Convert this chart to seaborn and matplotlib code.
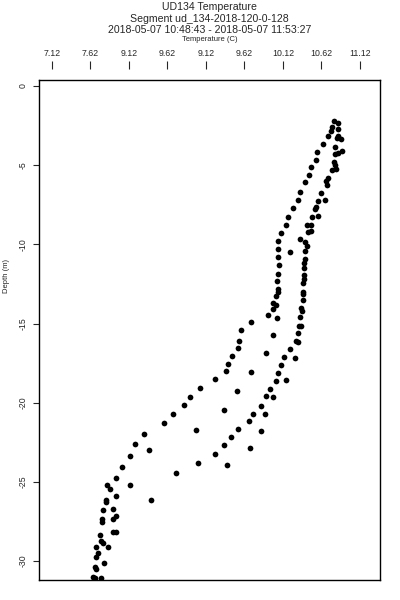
import numpy as np
import pandas as pd
import matplotlib
matplotlib.use("Agg")
import matplotlib.pyplot as plt
import seaborn as sns

# temperature (C) and depth (m) of each sample
temp_c = [10.78, 10.83, 10.75, 10.74, 10.83, 10.70, 10.83, 10.87, 10.82, 10.64,
          10.80, 10.56, 10.80, 10.83, 10.89, 10.55, 10.78, 10.79, 10.48, 10.76,
          10.81, 10.46, 10.71, 10.68, 10.41, 10.69, 10.34, 10.62, 10.32, 10.58,
          10.67, 10.25, 10.55, 10.54, 10.19, 10.50, 10.58, 10.16, 10.43, 10.48,
          10.10, 10.45, 10.48, 10.06, 10.34, 10.41, 10.43, 10.06, 10.21, 10.40,
          10.06, 10.40, 10.39, 10.07, 10.39, 10.06, 10.04, 10.39, 10.39, 10.38,
          10.05, 10.05, 10.38, 10.38, 10.03, 10.38, 9.99, 10.03, 9.99, 10.35,
          10.37, 9.92, 10.04, 10.34, 9.70, 10.33, 10.35, 9.57, 9.99, 10.31,
          9.55, 10.29, 10.31, 9.54, 9.90, 10.21, 9.46, 10.14, 10.28, 9.41,
          10.10, 9.38, 9.70, 10.06, 9.24, 10.03, 10.16, 9.05, 9.95, 9.52,
          8.92, 9.90, 9.99, 8.84, 9.35, 9.83, 8.69, 9.73, 9.89, 8.58,
          9.68, 9.54, 9.84, 8.99, 8.32, 9.45, 8.20, 9.36, 9.69, 8.38,
          8.13, 9.24, 9.02, 9.39, 8.03, 8.73, 7.95, 8.14, 7.84, 7.88,
          8.41, 7.96, 7.82, 7.82, 7.91, 7.78, 7.95, 7.92, 7.77, 7.77,
          7.91, 7.95, 7.75, 7.76, 7.79, 7.69, 7.85, 7.72, 7.69, 7.80,
          7.68, 7.69, 7.66, 7.68, 7.76]

depth_m = [-2.19, -2.32, -2.61, -2.82, -2.74, -3.16, -3.16, -3.33, -3.28, -3.68,
           -3.83, -4.17, -4.30, -4.25, -4.11, -4.67, -4.82, -4.97, -5.14, -5.33,
           -5.24, -5.60, -5.83, -5.98, -6.06, -6.27, -6.70, -6.74, -7.22, -7.25,
           -7.22, -7.71, -7.62, -7.77, -8.26, -8.26, -8.21, -8.78, -8.80, -8.76,
           -9.31, -9.20, -9.14, -9.81, -9.65, -9.84, -10.11, -10.32, -10.47, -10.40,
           -10.82, -10.95, -11.16, -11.29, -11.52, -11.86, -12.32, -11.96, -12.17, -12.46,
           -12.84, -12.99, -12.99, -13.14, -13.28, -13.52, -13.69, -13.82, -14.07, -14.04,
           -14.19, -14.49, -14.67, -14.57, -14.89, -15.14, -15.14, -15.41, -15.70, -15.62,
           -16.09, -16.13, -16.19, -16.57, -16.89, -16.63, -17.06, -17.14, -17.16, -17.54,
           -17.62, -18.02, -18.05, -18.15, -18.51, -18.64, -18.59, -19.08, -19.12, -19.27,
           -19.65, -19.60, -19.65, -20.17, -20.47, -20.23, -20.74, -20.70, -20.70, -21.31,
           -21.18, -21.65, -21.78, -21.75, -21.96, -22.17, -22.63, -22.70, -22.89, -23.01,
           -23.35, -23.23, -23.80, -23.96, -24.09, -24.46, -24.76, -25.17, -25.21, -25.44,
           -26.15, -25.90, -26.15, -26.30, -26.72, -26.80, -27.16, -27.37, -27.33, -27.52,
           -28.17, -28.19, -28.38, -28.72, -28.85, -29.12, -29.12, -29.52, -29.77, -30.15,
           -30.37, -30.49, -31.00, -31.08, -31.08]

# top axis ticks (labels kept exactly as printed on the original)
temp_ticks = [7.12, 7.62, 8.12, 8.62, 9.12, 9.62, 10.12, 10.62, 11.12]
temp_tick_labels = ["7.12", "7.62", "9.12", "9.62", "9.12", "9.62", "10.12", "10.62", "11.12"]
depth_ticks = [0, -5, -10, -15, -20, -25, -30]

title_lines = ["UD134 Temperature",
               "Segment ud_134-2018-120-0-128",
               "2018-05-07 10:48:43 - 2018-05-07 11:53:27"]

sns.set_style("white")
plt.rcParams['font.family'] = ['Liberation Sans', 'DejaVu Sans']
plt.rcParams['axes.unicode_minus'] = False

profile = pd.DataFrame({"temp": temp_c, "depth": depth_m})

fig = plt.figure(figsize=(4, 6), dpi=100)
ax = fig.add_axes([0.0975, 0.0333, 0.8525, 0.8342])

sns.scatterplot(x="temp", y="depth", data=profile, ax=ax, color="black",
                marker="o", s=17, linewidth=0)

ax.set_xlim(6.955, 11.379)
ax.set_ylim(-31.2, 0.41)
for sp in ax.spines.values():
    sp.set_visible(True)
    sp.set_color("black")
    sp.set_linewidth(1.0)

# no ticks on the bottom, depth ticks on the left
ax.set_xticks([])
ax.set_xlabel("")
ax.set_ylabel("")
ax.set_yticks(depth_ticks)
ax.set_yticklabels([str(d) for d in depth_ticks])
ax.tick_params(axis="y", left=True, direction="out", length=4.5, width=0.8,
               labelsize=6.3, pad=3.5, labelrotation=90)
for lab in ax.get_yticklabels():
    lab.set_va("center")

# temperature axis floats a bit above the frame, like the R plot
sec = ax.secondary_xaxis(1.021)
sec.set_xticks(temp_ticks)
sec.set_xticklabels(temp_tick_labels)
for sp in sec.spines.values():
    sp.set_visible(False)
sec.tick_params(axis="x", direction="out", length=5.8, width=0.8, labelsize=6.3, pad=2)

fig.text(0.0150, 0.54, "Depth (m)", rotation=90, fontsize=5.5, ha="center", va="center")
fig.text(0.524, 1 - 40.7 / 600, "Temperature (C)", fontsize=5.5, ha="center", va="baseline")
for line, base in zip(title_lines, [10.0, 21.7, 33.0]):
    fig.text(0.524, 1 - base / 600, line, fontsize=7.6, ha="center", va="baseline")

fig.savefig("out.png", dpi=100)
